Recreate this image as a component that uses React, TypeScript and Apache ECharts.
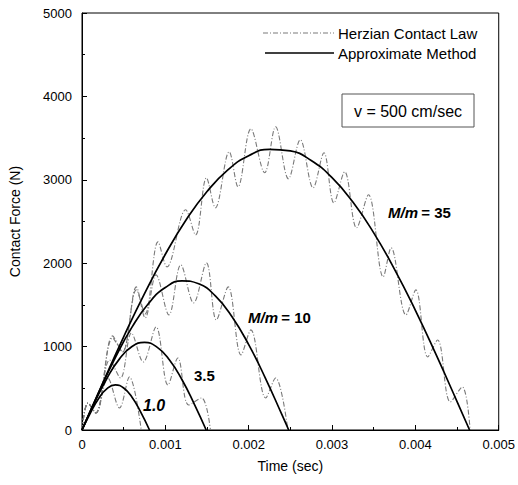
import React, { useEffect, useRef } from "react";
import * as echarts from "echarts";

// Hertzian contact law results: [time (s), contact force (N)]
const hertz35: [number, number][] = [
  [0, 0], [0.000071, 324], [0.000166, 204], [0.000367, 1128], [0.000486, 936],
  [0.000652, 1680], [0.000758, 1392], [0.000912, 2256], [0.001019, 1956],
  [0.001244, 2640], [0.001363, 2340], [0.001493, 3024], [0.0016, 2664],
  [0.001766, 3336], [0.001872, 2916], [0.002026, 3612], [0.002192, 3084],
  [0.002323, 3636], [0.002477, 3012], [0.002619, 3480], [0.002773, 2904],
  [0.002903, 3324], [0.003022, 2724], [0.003152, 3096], [0.003294, 2424],
  [0.003437, 2820], [0.003614, 1836], [0.003709, 2184], [0.003887, 1380],
  [0.004005, 1680], [0.004148, 876], [0.004266, 1080], [0.00442, 336],
  [0.004562, 516], [0.004657, 0],
];
const hertz10: [number, number][] = [
  [0, 0], [0.000071, 324], [0.000166, 204], [0.000367, 1104], [0.000486, 936],
  [0.000652, 1716], [0.000758, 1344], [0.000889, 1860], [0.001043, 1380],
  [0.001185, 1980], [0.001339, 1524], [0.001493, 2004], [0.001612, 1320],
  [0.001754, 1716], [0.001908, 900], [0.002026, 1200], [0.002204, 384],
  [0.002323, 624], [0.00247, 0],
];
const hertz35b: [number, number][] = [
  [0, 0], [0.000071, 324], [0.000166, 204], [0.000332, 840], [0.000462, 624],
  [0.000593, 1164], [0.000735, 816], [0.000889, 1236], [0.001031, 540],
  [0.00115, 864], [0.00128, 300], [0.001434, 384], [0.001541, 0],
];
const hertz1: [number, number][] = [
  [0, 0], [0.000071, 324], [0.000166, 204], [0.000308, 624], [0.00045, 264],
  [0.000569, 636], [0.000711, 0],
];

// Approximate method results: [time (s), contact force (N)]
const approx35: [number, number][] = [
  [0, 0], [0.00025, 566], [0.0005, 1117], [0.00075, 1636], [0.001, 2107],
  [0.00125, 2520], [0.0015, 2860], [0.00175, 3119], [0.002, 3289],
  [0.00225, 3366], [0.0025, 3346], [0.00275, 3231], [0.003, 3025],
  [0.00325, 2733], [0.0035, 2364], [0.00375, 1927], [0.004, 1435],
  [0.00425, 900], [0.0045, 341], [0.00465, 0],
];
const approx10: [number, number][] = [
  [0, 0], [0.0002, 449], [0.0004, 869], [0.0006, 1233], [0.0008, 1519],
  [0.001, 1708], [0.0012, 1788], [0.0014, 1753], [0.0016, 1607],
  [0.0018, 1358], [0.002, 1024], [0.0022, 623], [0.0024, 181], [0.00248, 0],
];
const approx35b: [number, number][] = [
  [0, 0], [0.00015, 327], [0.0003, 621], [0.00045, 853], [0.0006, 1001],
  [0.00075, 1050], [0.0009, 994], [0.00105, 840], [0.0012, 603],
  [0.00135, 305], [0.00149, 0],
];
const approx1: [number, number][] = [
  [0, 0], [0.0001, 204], [0.0002, 378], [0.0003, 496], [0.0004, 540],
  [0.0005, 504], [0.0006, 393], [0.0007, 224], [0.00081, 0],
];

const LEGEND_HERTZ = "Herzian Contact Law";
const LEGEND_APPROX = "Approximate Method";

const FONT = "'Liberation Sans', Arial, Helvetica, sans-serif";
const DASH = [5, 2, 1, 2];
const DASH_COLOR = "#7a7a7a";

export default function App() {
  const ref = useRef<HTMLDivElement>(null);

  useEffect(() => {
    if (!ref.current) return;
    const chart = echarts.init(ref.current, undefined, { renderer: "svg" });

    const dashed = (data: [number, number][]) => ({
      type: "line",
      name: LEGEND_HERTZ,
      data,
      showSymbol: false,
      smooth: 0.35,
      lineStyle: { color: DASH_COLOR, width: 1.1, type: DASH },
      z: 2,
    });
    const solid = (data: [number, number][]) => ({
      type: "line",
      name: LEGEND_APPROX,
      data,
      showSymbol: false,
      smooth: true,
      lineStyle: { color: "#000", width: 1.7 },
      z: 3,
    });

    chart.setOption({
      animation: false,
      backgroundColor: "#fff",
      textStyle: { fontFamily: FONT },
      grid: {
        left: 82,
        right: 13,
        top: 13,
        bottom: 55,
        show: true,
        borderColor: "#000",
        borderWidth: 1,
      },
      xAxis: {
        type: "value",
        min: 0,
        max: 0.005,
        interval: 0.001,
        name: "Time (sec)",
        nameLocation: "middle",
        nameGap: 29,
        nameTextStyle: { fontSize: 14, color: "#000", fontFamily: FONT },
        axisLine: { lineStyle: { color: "#000" } },
        axisTick: { inside: true, length: 5, lineStyle: { color: "#000" } },
        minorTick: { show: true, splitNumber: 2, length: 3, lineStyle: { color: "#000" } },
        splitLine: { show: false },
        axisLabel: {
          fontSize: 13,
          color: "#000",
          margin: 8,
          fontFamily: FONT,
          formatter: (v: number) => (v === 0 ? "0" : v.toFixed(3)),
        },
      },
      yAxis: {
        type: "value",
        min: 0,
        max: 5000,
        interval: 1000,
        name: "Contact Force (N)",
        nameLocation: "middle",
        nameGap: 60,
        nameTextStyle: { fontSize: 14, color: "#000", fontFamily: FONT },
        axisLine: { lineStyle: { color: "#000" } },
        axisTick: { inside: true, length: 5, lineStyle: { color: "#000" } },
        minorTick: { show: true, splitNumber: 2, length: 3, lineStyle: { color: "#000" } },
        splitLine: { show: false },
        axisLabel: {
          fontSize: 13,
          color: "#000",
          margin: 10,
          fontFamily: FONT,
          formatter: (v: number) => String(v),
        },
      },
      series: [
        dashed(hertz35),
        dashed(hertz10),
        dashed(hertz35b),
        dashed(hertz1),
        solid(approx35),
        solid(approx10),
        solid(approx35b),
        solid(approx1),
      ],
      graphic: [
        // legend
        {
          type: "line",
          shape: { x1: 263, y1: 33, x2: 334, y2: 33 },
          style: { stroke: DASH_COLOR, lineWidth: 1.1, lineDash: DASH },
        },
        {
          type: "text",
          x: 338,
          y: 33,
          style: {
            text: LEGEND_HERTZ,
            font: `15px ${FONT}`,
            fill: "#000",
            verticalAlign: "middle",
          },
        },
        {
          type: "line",
          shape: { x1: 265, y1: 53, x2: 334, y2: 53 },
          style: { stroke: "#000", lineWidth: 1.5 },
        },
        {
          type: "text",
          x: 338,
          y: 53,
          style: {
            text: LEGEND_APPROX,
            font: `15px ${FONT}`,
            fill: "#000",
            verticalAlign: "middle",
          },
        },
        // impact velocity box
        {
          type: "rect",
          shape: { x: 342, y: 94, width: 132, height: 33 },
          style: { fill: "#fff", stroke: "#555", lineWidth: 1 },
          z: 10,
        },
        {
          type: "text",
          x: 408,
          y: 111,
          z: 11,
          style: {
            text: "v = 500 cm/sec",
            font: `16px ${FONT}`,
            fill: "#000",
            align: "center",
            verticalAlign: "middle",
          },
        },
        // mass ratio labels
        {
          type: "text",
          x: 388,
          y: 212,
          z: 11,
          style: {
            text: "{a|M/m} {b|= 35}",
            verticalAlign: "middle",
            rich: {
              a: { font: `italic bold 15px ${FONT}`, fill: "#000" },
              b: { font: `bold 15px ${FONT}`, fill: "#000" },
            },
          },
        },
        {
          type: "text",
          x: 248,
          y: 317,
          z: 11,
          style: {
            text: "{a|M/m} {b|= 10}",
            verticalAlign: "middle",
            rich: {
              a: { font: `italic bold 15px ${FONT}`, fill: "#000" },
              b: { font: `bold 15px ${FONT}`, fill: "#000" },
            },
          },
        },
        {
          type: "text",
          x: 194,
          y: 375,
          z: 11,
          style: {
            text: "3.5",
            font: `bold 15px ${FONT}`,
            fill: "#000",
            verticalAlign: "middle",
          },
        },
        {
          type: "text",
          x: 143,
          y: 405,
          z: 11,
          style: {
            text: "1.0",
            font: `italic bold 16px ${FONT}`,
            fill: "#000",
            verticalAlign: "middle",
          },
        },
      ],
    });

    return () => chart.dispose();
  }, []);

  return (
    <div
      ref={ref}
      style={{ position: "fixed", left: 0, top: 0, width: 518, height: 485 }}
    />
  );
}
